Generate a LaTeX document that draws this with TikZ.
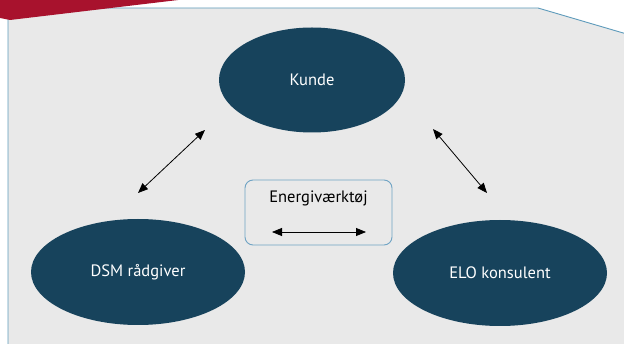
\documentclass[tikz,border=0pt]{standalone}
\usepackage{fontspec}
\setmainfont{PT Sans}
\usetikzlibrary{arrows.meta,shapes.geometric}

\definecolor{panelgray}{HTML}{E9E9E9}
\definecolor{panelline}{HTML}{5E9BBB}
\definecolor{boxline}{HTML}{6FA3C4}
\definecolor{navy}{HTML}{17435C}
\definecolor{banner}{HTML}{A8122D}

\begin{document}
\begin{tikzpicture}[x=1pt,y=-1pt,
    role/.style={ellipse,fill=navy,text=white,inner sep=0pt,font=\fontsize{16.5}{18}\selectfont},
    toolbox/.style={draw=boxline,rounded corners=8pt,line width=0.9pt,fill=panelgray},
    link/.style={line width=0.8pt,{Triangle[length=10pt,width=8pt]}-{Triangle[length=10pt,width=8pt]}}
    ]
    \useasboundingbox (0,0) rectangle (624,344);
    % Background panel with the cut corner
    \draw[panelline,fill=panelgray,line width=0.9pt]
        (8,360) -- (8,8) -- (538,8) -- (630,35) -- (630,360);
    % Red banner in the top left corner
    \fill[banner] (0,-2) -- (195,-2) -- (10,20) -- (0,18) -- cycle;

    % The three roles:
    \node[role,minimum width=186pt,minimum height=105pt] (kunde) at (312,80) {Kunde};
    \node[role,minimum width=214pt,minimum height=106pt] (dsm) at (138,272) {DSM rådgiver};
    \node[role,minimum width=214pt,minimum height=106pt] (elo) at (500,273) {ELO konsulent};

    % Tool in the middle
    \node[toolbox,minimum width=147pt,minimum height=65pt] (tool) at (318.5,212.5) {};
    \node[font=\fontsize{16.5}{18}\selectfont] (toolname) at (tool.center) [yshift=14pt] {Energiværktøj};

    % Arrow end points
    \coordinate (k1) at (205,130);
    \coordinate (d1) at (138,193);
    \coordinate (k2) at (433,129);
    \coordinate (e1) at (487,193);
    \coordinate (t1) at (272,232);
    \coordinate (t2) at (366,232);

    \draw[link] (k1) -- (d1);
    \draw[link] (k2) -- (e1);
    \draw[link] (t1) -- (t2);
\end{tikzpicture}
\end{document}
